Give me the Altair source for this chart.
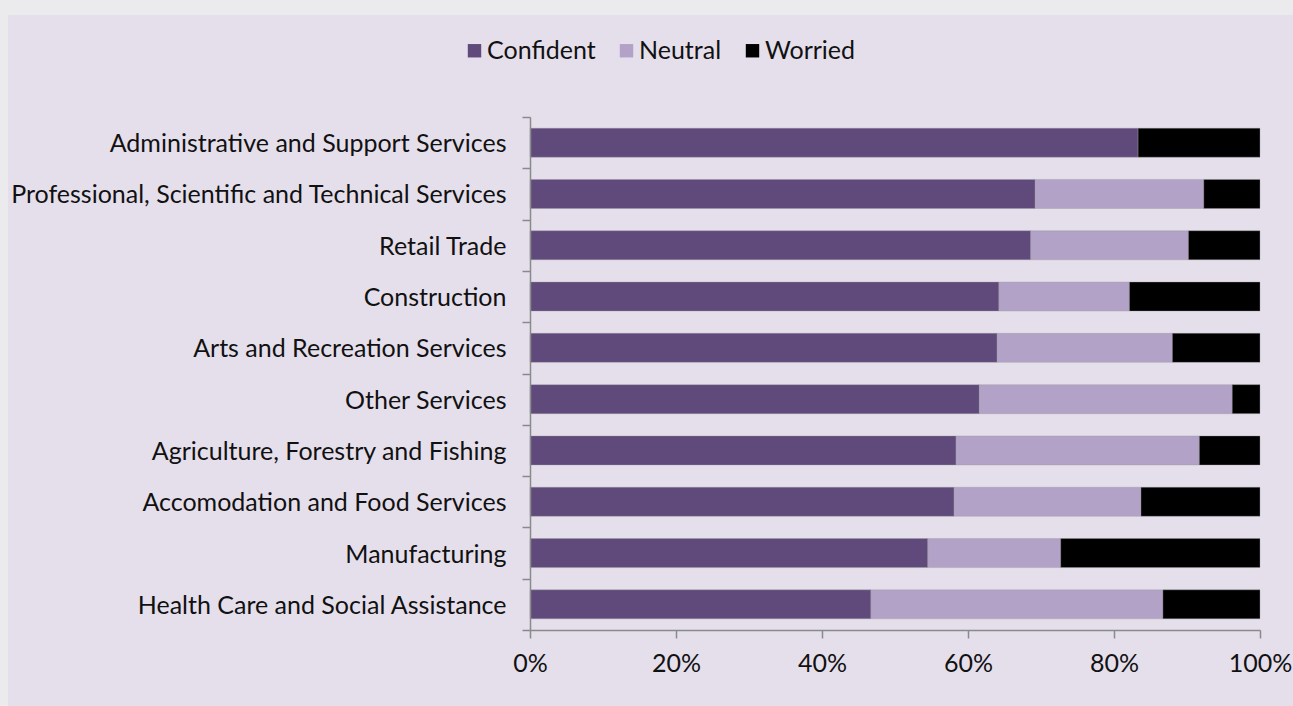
import altair as alt
import pandas as pd

industries = [
    "Administrative and Support Services",
    "Professional, Scientific and Technical Services",
    "Retail Trade",
    "Construction",
    "Arts and Recreation Services",
    "Other Services",
    "Agriculture, Forestry and Fishing",
    "Accomodation and Food Services",
    "Manufacturing",
    "Health Care and Social Assistance",
]
confident = [83.3, 69.2, 68.6, 64.3, 64.0, 61.5, 58.3, 58.1, 54.5, 46.7]
neutral = [0.0, 23.1, 21.6, 17.9, 24.0, 34.6, 33.3, 25.6, 18.2, 40.0]
worried = [16.7, 7.7, 9.8, 17.9, 12.0, 3.8, 8.3, 16.3, 27.3, 13.3]
categories = ["Confident", "Neutral", "Worried"]
colors = ["#604a7b", "#b3a2c7", "#000000"]
x_ticks = [0, 0.2, 0.4, 0.6, 0.8, 1.0]

rows = []
for i, ind in enumerate(industries):
    for k, (cat, vals) in enumerate(zip(categories, [confident, neutral, worried])):
        if vals[i] > 0:
            rows.append({"industry": ind, "sentiment": cat, "value": vals[i], "order": k})
df = pd.DataFrame(rows)

FONT = "Lato"
FS = 25

panel = alt.Chart(alt.Data(values=[{}])).mark_rect(color="#e5dfec").encode(
    x=alt.value(-522), x2=alt.value(763), y=alt.value(-102), y2=alt.value(589)
)

bars = alt.Chart(df).mark_bar(size=29, stroke="#9a9a9a", strokeWidth=0.6, strokeOpacity=0.6).encode(
    y=alt.Y(
        "industry:N",
        sort=industries,
        title=None,
        scale=alt.Scale(paddingInner=0, paddingOuter=0),
        axis=alt.Axis(
            zindex=1,
            tickBand="extent",
            tickSize=8,
            tickColor="#8a8a8a",
            tickWidth=1.5,
            domainColor="#8a8a8a",
            domainWidth=1.5,
            labelFont=FONT,
            labelFontSize=FS,
            labelColor="#111111",
            labelPadding=16,
            labelOffset=1,
            labelLimit=600,
        ),
    ),
    x=alt.X(
        "value:Q",
        stack="normalize",
        title=None,
        scale=alt.Scale(domain=[0, 1], nice=False),
        axis=alt.Axis(
            zindex=1,
            values=x_ticks,
            format=".0%",
            grid=False,
            labelFlush=False,
            tickSize=8,
            tickColor="#8a8a8a",
            tickWidth=1.5,
            domainColor="#8a8a8a",
            domainWidth=1.5,
            labelFont=FONT,
            labelFontSize=FS,
            labelColor="#111111",
            labelPadding=13,
        ),
    ),
    color=alt.Color(
        "sentiment:N",
        scale=alt.Scale(domain=categories, range=colors),
        legend=alt.Legend(
            title=None,
            orient="none",
            direction="horizontal",
            legendX=-68,
            legendY=-79,
            padding=0,
            symbolType="square",
            symbolSize=180,
            symbolStrokeWidth=0,
            symbolOpacity=1,
            labelFont=FONT,
            labelFontSize=FS,
            labelColor="#111111",
            labelOffset=0,
            columnPadding=18,
        ),
    ),
    order=alt.Order("order:Q"),
)

chart = alt.layer(panel, bars).properties(
    width=730,
    height=513,
    padding={"left": 530, "top": 117, "right": 33, "bottom": 76},
    autosize=alt.AutoSizeParams(type="none"),
    background="#ebebed",
).configure_view(stroke=None)

chart.save("out.html", embed_options={"renderer": "svg", "actions": False})
